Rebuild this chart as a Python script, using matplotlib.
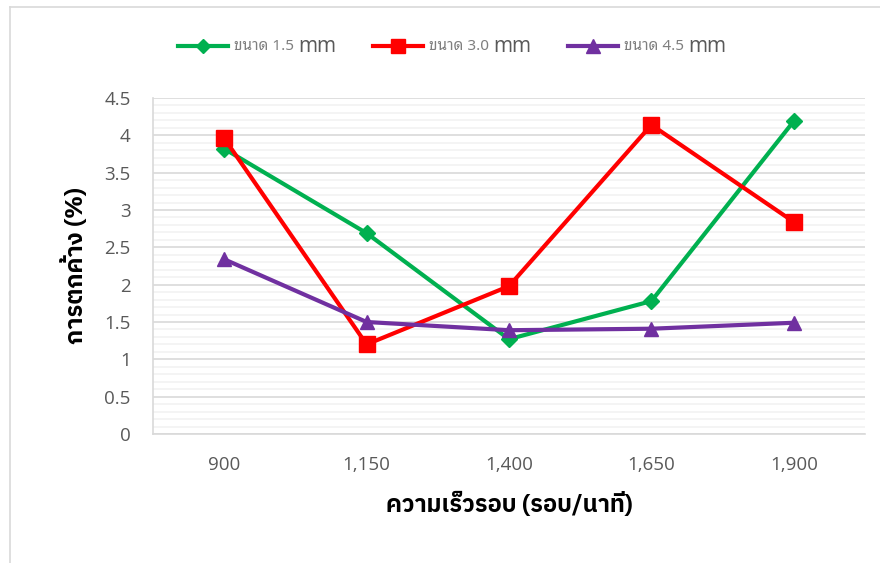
import numpy as np
import matplotlib.pyplot as plt
from matplotlib.lines import Line2D
from matplotlib.ticker import MultipleLocator

speeds = ["900", "1,150", "1,400", "1,650", "1,900"]
size_15 = [3.82, 2.69, 1.27, 1.78, 4.19]
size_30 = [3.96, 1.20, 1.98, 4.14, 2.84]
size_45 = [2.34, 1.50, 1.39, 1.41, 1.49]
labels = ["ขนาด 1.5", "ขนาด 3.0", "ขนาด 4.5"]
colors = ["#00b050", "#ff0000", "#7030a0"]
markers = ["D", "s", "^"]
msizes = [8, 11, 10]

title_font = ["IBM Plex Sans Thai", "DejaVu Sans"]
looped = ["Noto Sans Thai Looped", "DejaVu Sans"]
num_font = "Open Sans"

W, H = 880, 563
fig = plt.figure(figsize=(W / 100, H / 100), dpi=100)
ax = fig.add_axes([153 / W, 1 - 434 / H, 712 / W, 336 / H])

x = np.arange(len(speeds))
for vals, c, m, s in zip([size_15, size_30, size_45], colors, markers, msizes):
    ax.plot(x, vals, color=c, lw=3, marker=m, ms=s, zorder=3)

ax.set_xlim(-0.5, 4.5)
ax.set_ylim(0, 4.5)
ax.yaxis.set_major_locator(MultipleLocator(0.5))
ax.yaxis.set_minor_locator(MultipleLocator(0.1))
ax.set_yticks([0, 0.5, 1, 1.5, 2, 2.5, 3, 3.5, 4, 4.5])
ax.set_yticklabels(["0", "0.5", "1", "1.5", "2", "2.5", "3", "3.5", "4", "4.5"],
                   fontfamily=num_font, fontsize=13.5, color="#595959")
ax.set_xticks(x)
ax.set_xticklabels(speeds, fontfamily=num_font, fontsize=13.5, color="#595959")
ax.tick_params(axis="both", which="both", length=0)
ax.tick_params(axis="y", pad=16)
ax.tick_params(axis="x", pad=16)
ax.grid(axis="y", which="major", color="#d9d9d9", lw=1.2, zorder=1)
ax.grid(axis="y", which="minor", color="#f2f2f2", lw=1.2, zorder=1)
ax.set_axisbelow(True)
for s in ["top", "right"]:
    ax.spines[s].set_visible(False)
for s in ["left", "bottom"]:
    ax.spines[s].set_color("#d9d9d9")
    ax.spines[s].set_linewidth(1.2)

ax.set_xlabel("ความเร็วรอบ (รอบ/นาที)", family=title_font, fontsize=17, fontweight="bold",
              labelpad=13)
ax.set_ylabel("การตกค้าง (%)", family=title_font, fontsize=17, fontweight="bold", labelpad=12)

# legend drawn by hand: small Thai label, bigger "mm"
fig.canvas.draw()
r = fig.canvas.get_renderer()
leg_y = 1 - 46 / H
for i, (lab, c, m, s) in enumerate(zip(labels, colors, markers, msizes)):
    x0 = [178, 373, 568][i]
    fig.add_artist(Line2D([x0 / W, (x0 + 50) / W], [leg_y, leg_y], color=c, lw=3))
    fig.add_artist(Line2D([(x0 + 25) / W], [leg_y], color=c, marker=m, ms=s * 0.95, lw=0))
    t = fig.text((x0 + 56) / W, leg_y, lab, fontsize=11, color="#7f7f7f",
                 family=looped, va="center")
    bb = t.get_window_extent(r)
    fig.text(bb.x1 / W + 4 / W, leg_y, "mm", fontsize=15, color="#595959",
             family=num_font, va="center")

# chart border
fig.add_artist(Line2D([10 / W, 10 / W], [0, 1 - 7 / H], color="#d9d9d9", lw=1.2))
fig.add_artist(Line2D([10 / W, 1], [1 - 7 / H, 1 - 7 / H], color="#d9d9d9", lw=1.2))

fig.savefig("out.png", dpi=100)
